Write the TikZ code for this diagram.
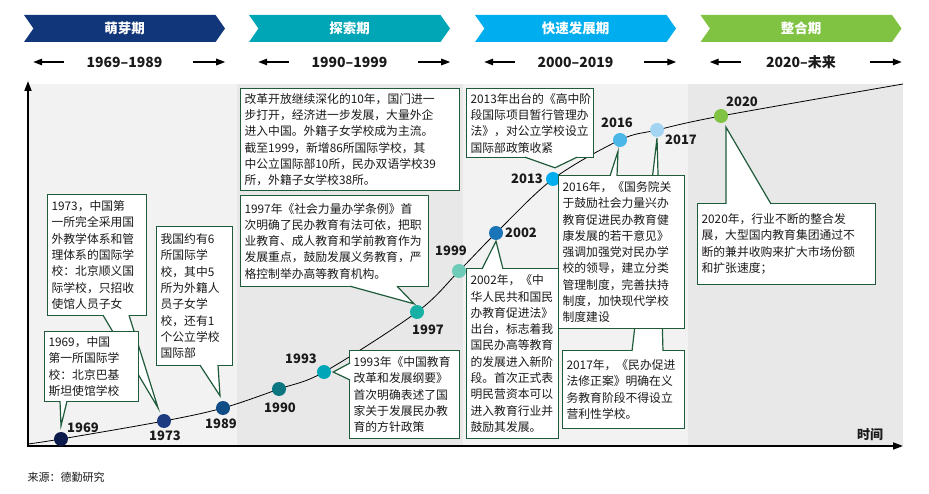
\documentclass[tikz,border=0pt]{standalone}
\usepackage{fontspec}
\setmainfont{Noto Sans CJK SC}
\usetikzlibrary{positioning,arrows.meta,calc,shapes.symbols}
\definecolor{ink}{HTML}{1A1A1A}
\definecolor{frame}{HTML}{1F5B3A}
\definecolor{bandA}{HTML}{F2F2F2}
\definecolor{bandB}{HTML}{E8E8E8}
\definecolor{ph1}{HTML}{12367A}
\definecolor{ph2}{HTML}{00A6B6}
\definecolor{ph3}{HTML}{00AEEF}
\definecolor{ph4}{HTML}{80C242}
\definecolor{c1969}{HTML}{0D1B4C}
\definecolor{c1973}{HTML}{1E3A80}
\definecolor{c1989}{HTML}{104C86}
\definecolor{c1990}{HTML}{0B7580}
\definecolor{c1993}{HTML}{00A5B8}
\definecolor{c1997}{HTML}{17B0A5}
\definecolor{c1999}{HTML}{6ECBB8}
\definecolor{c2002}{HTML}{1A74B8}
\definecolor{c2013}{HTML}{00AEEF}
\definecolor{c2016}{HTML}{4BB6E8}
\definecolor{c2017}{HTML}{A3D4F2}
\definecolor{c2020}{HTML}{80C242}

\begin{document}
\begin{tikzpicture}[x=1pt, y=-1pt,
  font=\fontsize{11.8}{16.3}\selectfont,
  phase/.style={signal, signal to=east, signal from=west, signal pointer angle=110,
    minimum width=201pt, minimum height=27pt, inner sep=0pt, text=white,
    font=\fontsize{13.5}{16}\selectfont\bfseries},
  spanlbl/.style={font=\fontsize{14}{16}\selectfont\bfseries, text=ink},
  spanarr/.style={-{Triangle[length=9pt,width=6.5pt]}, line width=1.4pt},
  axisln/.style={-{Triangle[length=10pt,width=7pt]}, line width=1.8pt},
  note/.style={draw=frame, line width=1.2pt, fill=white, align=left, anchor=north west,
    inner xsep=4pt, inner ysep=1pt, text=ink},
  ptr/.style={draw=frame, line width=1.2pt, fill=white},
  dot/.style={circle, minimum size=14pt, inner sep=0pt},
  yr/.style={font=\fontsize{13}{15}\selectfont\bfseries, text=ink}]
\useasboundingbox (0,0) rectangle (929,494);
% phases
\node[phase, fill=ph1] (p1) at (124.5,28.5) {萌芽期};
\node[phase, fill=ph2] (p2) at (349.5,28.5) {探索期};
\node[phase, fill=ph3] (p3) at (575.5,28.5) {快速发展期};
\node[phase, fill=ph4] (p4) at (801,28.5) {整合期};
\node[spanlbl] (r1) at (124.5,62) {1969–1989};
\node[spanlbl] (r2) at (349.5,62) {1990–1999};
\node[spanlbl] (r3) at (575.5,62) {2000–2019};
\node[spanlbl] (r4) at (801,62) {2020–未来};
\draw[spanarr] ([xshift=31pt]p1.west |- r1) -- (p1.west |- r1);
\draw[spanarr] ([xshift=-32pt]p1.east |- r1) -- (p1.east |- r1);
\draw[spanarr] ([xshift=31pt]p2.west |- r2) -- (p2.west |- r2);
\draw[spanarr] ([xshift=-32pt]p2.east |- r2) -- (p2.east |- r2);
\draw[spanarr] ([xshift=31pt]p3.west |- r3) -- (p3.west |- r3);
\draw[spanarr] ([xshift=-32pt]p3.east |- r3) -- (p3.east |- r3);
\draw[spanarr] ([xshift=31pt]p4.west |- r4) -- (p4.west |- r4);
\draw[spanarr] ([xshift=-32pt]p4.east |- r4) -- (p4.east |- r4);
% bands and axes
\fill[bandA] (28,84) rectangle (237,446);
\fill[bandB] (237,84) rectangle (463,446);
\fill[bandA] (463,84) rectangle (688,446);
\fill[bandB] (688,84) rectangle (903,446);
\draw[axisln] (28,447) -- (28,81);
\draw[axisln] (27,446) -- (903,446);
\node[yr] (tl) at (870,435) {时间};
% growth curve and years
\draw[line width=0.8pt] plot[smooth, tension=0.55] coordinates {(28,444) (61,439) (164,421)
  (223,408) (279,389) (324,372) (417,312) (459,271) (496,233) (553,179) (620,140) (657,130)
  (721,116) (903,84)};
\node[dot, fill=c1969] (d1969) at (61,439) {};
\node[dot, fill=c1973] (d1973) at (164,421) {};
\node[dot, fill=c1989] (d1989) at (223,408) {};
\node[dot, fill=c1990] (d1990) at (279,389) {};
\node[dot, fill=c1993] (d1993) at (324,372) {};
\node[dot, fill=c1997] (d1997) at (417,312) {};
\node[dot, fill=c1999] (d1999) at (459,271) {};
\node[dot, fill=c2002] (d2002) at (496,233) {};
\node[dot, fill=c2013] (d2013) at (553,179) {};
\node[dot, fill=c2016] (d2016) at (620,140) {};
\node[dot, fill=c2017] (d2017) at (657,130) {};
\node[dot, fill=c2020] (d2020) at (721,116) {};
\node[yr] (l1969) at (83,428) {1969};
\node[yr] (l1973) at (165,436) {1973};
\node[yr] (l1989) at (221,424) {1989};
\node[yr] (l1990) at (280,408) {1990};
\node[yr] (l1993) at (301,359) {1993};
\node[yr] (l1997) at (428,330) {1997};
\node[yr] (l1999) at (451,251) {1999};
\node[yr] (l2002) at (521,233) {2002};
\node[yr] (l2013) at (527,179) {2013};
\node[yr] (l2016) at (617,123) {2016};
\node[yr] (l2017) at (681,140) {2017};
\node[yr] (l2020) at (742,102) {2020};
% notes, 1990s
\node[note, text width=211pt, minimum height=102pt] (bera) at (240,88)
  {改革开放继续深化的10年，国门进一\\步打开，经济进一步发展，大量外企\\进入中国。外籍子女学校成为主流。\\截至1999，新增86所国际学校，其\\中公立国际部10所，民办双语学校39\\所，外籍子女学校38所。};
\node[note, text width=180pt, minimum height=91pt] (b1997) at (240,195)
  {1997年《社会力量办学条例》首\\次明确了民办教育有法可依，把职\\业教育、成人教育和学前教育作为\\发展重点，鼓励发展义务教育，严\\格控制举办高等教育机构。};
\draw[ptr] ([xshift=110pt,yshift=1pt]b1997.south west) -- ([xshift=-3pt,yshift=1pt]d1997.north)
  -- ([xshift=157pt,yshift=1pt]b1997.south west);
\node[note, text width=102pt, minimum height=88pt] (b1993) at (349,350)
  {1993年《中国教育\\改革和发展纲要》\\首次明确表述了国\\家关于发展民办教\\育的方针政策};
\draw[ptr] ([xshift=1pt,yshift=-13pt]b1993.north west) -- ([xshift=2pt]d1993.east)
  -- ([xshift=1pt,yshift=-30pt]b1993.north west);
% notes, early years
\node[note, text width=91pt, minimum height=121pt] (b1973) at (47,194)
  {1973，中国第\\一所完全采用国\\外教学体系和管\\理体系的国际学\\校：北京顺义国\\际学校，只招收\\使馆人员子女};
\draw[ptr] ([xshift=56pt,yshift=1pt]b1973.south west) -- ([xshift=-6pt,yshift=6pt]d1973.north)
  -- ([xshift=82pt,yshift=1pt]b1973.south west);
\node[note, text width=86pt, minimum height=70pt] (b1969) at (44,331)
  {1969，中国\\第一所国际学\\校：北京巴基\\斯坦使馆学校};
\draw[ptr] ([xshift=16pt,yshift=1pt]b1969.south west) -- ([yshift=6pt]d1969.north)
  -- ([xshift=23pt,yshift=1pt]b1969.south west);
\node[note, text width=68pt, minimum height=139pt] (b1989) at (156,226)
  {我国约有6\\所国际学\\校，其中5\\所为外籍人\\员子女学\\校，还有1\\个公立学校\\国际部};
\draw[ptr] ([xshift=44pt,yshift=1pt]b1989.south west) -- ([xshift=-3pt,yshift=5pt]d1989.north)
  -- ([xshift=62pt,yshift=1pt]b1989.south west);
% notes, 2000s
\node[note, text width=84pt, minimum height=170pt] (b2002) at (466,268)
  {2002年，《中\\华人民共和国民\\办教育促进法》\\出台，标志着我\\国民办高等教育\\的发展进入新阶\\段。首次正式表\\明民营资本可以\\进入教育行业并\\鼓励其发展。};
\draw[ptr] ([xshift=16pt,yshift=-1pt]b2002.north west) -- ([yshift=-1pt]d2002.south)
  -- ([xshift=37pt,yshift=-1pt]b2002.north west);
\node[note, text width=119pt, minimum height=69pt] (b2013) at (466,88)
  {2013年出台的《高中阶\\段国际项目暂行管理办\\法》，对公立学校设立\\国际部政策收紧};
\draw[ptr] ([xshift=59pt,yshift=1pt]b2013.south west) -- ([xshift=2pt,yshift=4pt]d2013.north)
  -- ([xshift=111pt,yshift=1pt]b2013.south west);
\node[note, text width=114pt, minimum height=78pt] (b2017) at (562,350)
  {2017年，《民办促进\\法修正案》明确在义\\务教育阶段不得设立\\营利性学校。};
\draw[ptr] ([xshift=70pt,yshift=-1pt]b2017.north west) -- ([yshift=-1pt]d2017.south)
  -- ([xshift=101pt,yshift=-1pt]b2017.north west);
\node[note, text width=118pt, minimum height=153pt] (b2016) at (558,175)
  {2016年，《国务院关\\于鼓励社会力量兴办\\教育促进民办教育健\\康发展的若干意见》\\强调加强党对民办学\\校的领导，建立分类\\管理制度，完善扶持\\制度，加快现代学校\\制度建设};
\draw[ptr] ([xshift=52pt,yshift=-1pt]b2016.north west) -- ([xshift=-2pt,yshift=-4pt]d2016.south)
  -- ([xshift=59pt,yshift=-1pt]b2016.north west);
% notes, 2020
\node[note, text width=170pt, minimum height=81pt] (b2020) at (697,203)
  {2020年，行业不断的整合发\\展，大型国内教育集团通过不\\断的兼并收购来扩大市场份额\\和扩张速度；};
\draw[ptr] ([xshift=29pt,yshift=-1pt]b2020.north west) -- ([xshift=5pt,yshift=-4pt]d2020.south)
  -- ([xshift=74pt,yshift=-1pt]b2020.north west);
% source
\node[anchor=west, font=\fontsize{11}{13}\selectfont, text=ink] (src) at (24,477) {来源：德勤研究};
\end{tikzpicture}
\end{document}
